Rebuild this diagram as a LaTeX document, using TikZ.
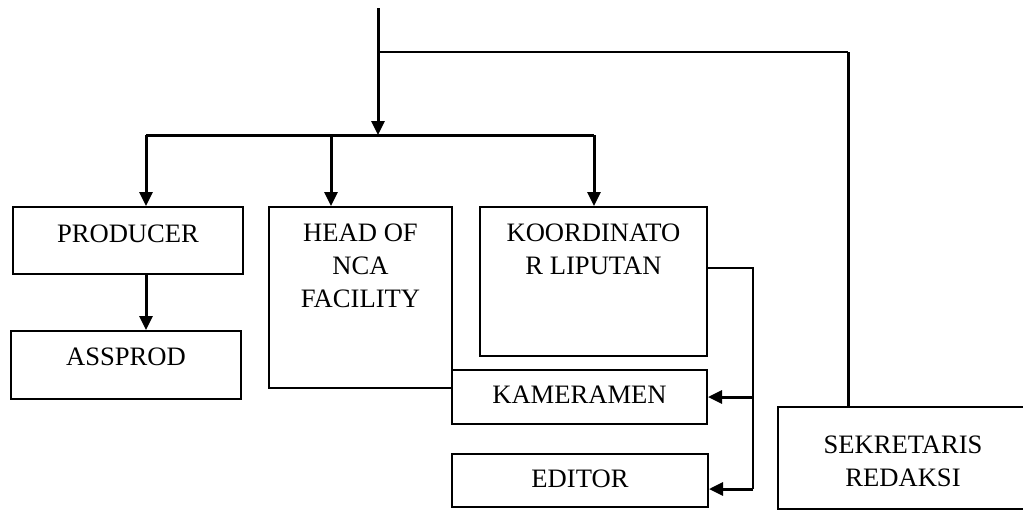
\documentclass[tikz,border=0pt]{standalone}
\usepackage{fontspec}
\setmainfont{Liberation Serif}
\usetikzlibrary{arrows.meta,positioning}
\newcommand{\boxfont}{\fontsize{13.3pt}{16.5pt}\selectfont}

\begin{document}
\begin{tikzpicture}[x=0.5pt, y=-0.5pt,
    box/.style={draw, line width=1pt, anchor=north west, inner sep=0pt},
    lbl/.style={anchor=north, align=center, inner sep=0pt, font=\boxfont, yshift=-#1},
    lbl/.default=9pt,
    line/.style={line width=1.5pt},
    thin line/.style={line width=1pt},
    >={Triangle[length=7pt,width=6.5pt]}
]
\useasboundingbox[fill=white] (0,0) rectangle (1023,510);
\clip (0,0) rectangle (1023,510);

% boxes
\node[box, minimum width=115pt, minimum height=33.5pt, label={[lbl=9pt]north:PRODUCER}] (prod) at (12,206) {};
\node[box, minimum width=115pt, minimum height=34pt, label={[lbl=8.5pt]north:ASSPROD}] (assprod) at (10,330) {};
\node[box, minimum width=91.5pt, minimum height=90.5pt, label={[lbl=8.5pt]north:HEAD OF\\NCA\\FACILITY}] (head) at (268,206) {};
\node[box, minimum width=113.5pt, minimum height=74.5pt, label={[lbl=8.5pt]north:KOORDINATO\\R LIPUTAN}] (koord) at (479,206) {};
\node[box, minimum width=127.5pt, minimum height=27pt, label={[lbl=8.5pt]north:KAMERAMEN}] (kamera) at (451,369) {};
\node[box, minimum width=128pt, minimum height=26.5pt, label={[lbl=8pt]north:EDITOR}] (editor) at (451,453) {};
% runs off the right edge
\node[box, minimum width=135pt, minimum height=51pt, label={[lbl=14.5pt, xshift=-5pt]north:SEKRETARIS\\REDAKSI}] (sekret) at (777,406) {};

% top line and branches
\coordinate (top) at (378,8);
\coordinate (split) at (378,135);
\coordinate (fork) at (378,52);
\coordinate (sk) at (848,52);
\coordinate (barL) at (146,135);
\coordinate (barM) at (331,135);
\coordinate (barR) at (594,135);
\draw[line,->] (top) -- (split);
\draw[line] (barL) -- (barR);
\draw[line,->] (barL) -- (barL |- prod.north);
\draw[line,->] (barM) -- (barM |- head.north);
\draw[line,->] (barR) -- (barR |- koord.north);
\draw[line,->] (barL |- prod.south) -- (barL |- assprod.north);

% sekretaris
\draw[thin line] (fork) -- (sk);
\draw[line] (sk) -- (sk |- sekret.north);

% koordinator liputan
\coordinate (bus) at (753,268);
\coordinate (busend) at (753,489);
\draw[thin line] (bus -| koord.east) -- (bus) -- (busend);
\draw[line,->] (bus |- kamera.east) -- (kamera.east);
\draw[line,->] (busend) -- (busend -| editor.east);
\end{tikzpicture}
\end{document}
